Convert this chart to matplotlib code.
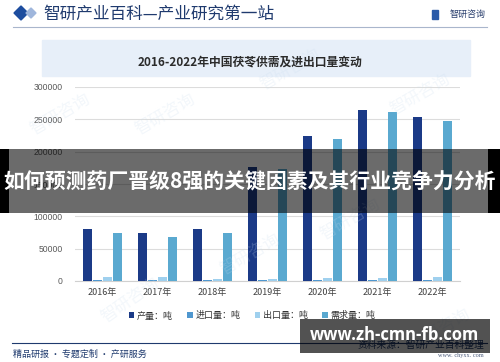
import matplotlib
matplotlib.use('Agg')
import matplotlib.pyplot as plt
from matplotlib.patches import Rectangle, Polygon
import numpy as np

plt.rcParams['font.family'] = ['Noto Sans CJK SC', 'DejaVu Sans']

# 数据 (单位: 吨)
years = ['2016年', '2017年', '2018年', '2019年', '2020年', '2021年', '2022年']
production = [80000, 74000, 80000, 177000, 224000, 264000, 254000]
imports = [1500, 1500, 1500, 1500, 800, 1500, 1500]
exports = [5500, 5500, 3500, 3700, 4500, 4500, 5800]
demand = [74500, 68000, 75000, 173000, 219000, 261000, 248000]
series_names = ['产量：吨', '进口量：吨', '出口量：吨', '需求量：吨']
series_colors = ['#1b3a87', '#4f97cf', '#9fd0ee', '#5aa9d0']
yticks = [0, 50000, 100000, 150000, 200000, 250000, 300000]

W, H = 500, 362
NAVY = '#1f3a6e'


def fx(px):
    return px / W


def fy(py):
    return 1 - py / H


def fig_rect(fig, x0, y0, x1, y1, **kw):
    """像素坐标的矩形 (左上角原点)"""
    r = Rectangle((fx(x0), fy(y1)), fx(x1) - fx(x0), fy(y0) - fy(y1),
                  transform=fig.transFigure, **kw)
    fig.patches.append(r)
    return r


def draw_chart(fig):
    ax = fig.add_axes([fx(75), fy(281), fx(460) - fx(75), fy(87) - fy(281)])
    x = np.arange(len(years))
    pitch = 0.182
    width = 0.148
    for i, (vals, name, c) in enumerate(zip([production, imports, exports, demand],
                                            series_names, series_colors)):
        ax.bar(x + (i - 1.5) * pitch, vals, width=width, color=c, label=name, zorder=3)
    ax.set_xlim(-0.5, len(years) - 0.5)
    ax.set_ylim(0, 300000)
    ax.set_yticks(yticks)
    ax.set_yticklabels([str(v) for v in yticks], fontsize=6.2, color='#595959',
                       family=['Liberation Sans', 'DejaVu Sans'])
    ax.set_xticks(x)
    ax.set_xticklabels(years, fontsize=6.5, color='#404040')
    ax.tick_params(axis='both', length=0)
    ax.tick_params(axis='y', pad=9)
    ax.tick_params(axis='x', pad=5)
    ax.grid(axis='y', color='#dcdcdc', linewidth=0.8, zorder=0)
    for s in ['top', 'right', 'left']:
        ax.spines[s].set_visible(False)
    ax.spines['bottom'].set_color('#d0d0d0')
    ax.set_facecolor('none')
    ax.legend(loc='upper center', bbox_to_anchor=(0.46, -0.115), ncol=4, frameon=False,
              fontsize=6.5, handlelength=0.6, handleheight=0.6, handletextpad=0.3,
              columnspacing=1.6, labelcolor='#333333')
    return ax


def draw_decor(fig):
    # 页眉
    fig.patches.append(Polygon([(fx(14), fy(13)), (fx(21), fy(6)), (fx(28), fy(13)), (fx(21), fy(20))],
                               closed=True, transform=fig.transFigure, color='#1d4d9f'))
    fig.patches.append(Polygon([(fx(26), fy(13)), (fx(31), fy(8)), (fx(36), fy(13)), (fx(31), fy(18))],
                               closed=True, transform=fig.transFigure, color='#9fb6dc'))
    fig.text(fx(43), fy(14), '智研产业百科—产业研究第一站', fontsize=12, color=NAVY,
             va='center', ha='left')
    fig_rect(fig, 432, 10, 438, 19, color='#2a5aa8')
    fig.text(fx(486), fy(14.5), '智研咨询', fontsize=6.5, color='#2a3f6e', va='center', ha='right')
    fig.add_artist(plt.Line2D([fx(13), fx(487)], [fy(27), fy(27)], color='#a9b6cc', lw=0.8))

    # 标题框
    fig_rect(fig, 42, 40, 470, 76, color='#e7eff9', zorder=0)
    fig.text(0.5, fy(62), '2016-2022年中国茯苓供需及进出口量变动', fontsize=8.5,
             color='#2b2b2b', ha='center', va='center', fontweight='bold')

    # 页脚
    fig.add_artist(plt.Line2D([fx(12), fx(487)], [fy(343), fy(343)], color=NAVY, lw=0.8))
    fig.text(fx(13), fy(354), '精品研报 · 专题定制 · 产研服务', fontsize=6.5, color=NAVY,
             va='center', ha='left')
    fig.text(fx(484), fy(345), '资料来源：智研产业百科整理', fontsize=7, color=NAVY,
             va='center', ha='right')
    fig.text(fx(484), fy(356), 'www. chyxx. com', fontsize=4.5, color='#4a5a7a',
             va='center', ha='right', family=['Liberation Serif', 'DejaVu Serif'])

    # 水印
    for (wx, wy, rot) in [(60, 115, 30), (165, 115, 30), (290, 70, 30), (130, 300, 35),
                          (250, 255, 30), (420, 95, 30), (440, 330, 30), (350, 220, 30)]:
        fig.text(fx(wx), fy(wy), '智研咨询', fontsize=12, color='#c9dcee', alpha=0.22,
                 rotation=rot, ha='center', va='center', zorder=1)


def draw_overlays(fig):
    # 中部横幅
    fig_rect(fig, 0, 149, 500, 213, color='black', alpha=0.58, zorder=10, lw=0)
    fig_rect(fig, 0, 149, 9, 213, color='black', zorder=11, lw=0)
    fig_rect(fig, 488, 149, 500, 213, color='black', zorder=11, lw=0)
    fig.text(0.5, fy(182), '如何预测药厂晋级8强的关键因素及其行业竞争力分析', fontsize=15,
             color='white', fontweight='bold', ha='center', va='center', zorder=12)
    # 右下角网址
    fig_rect(fig, 300, 319, 490, 353, color='black', alpha=0.68, zorder=10, lw=0)
    fig.text(fx(394), fy(335), 'www.zh-cmn-fb.com', fontsize=12, color='white',
             fontweight='bold', ha='center', va='center', zorder=12,
             family=['Open Sans', 'DejaVu Sans'])


def main():
    fig = plt.figure(figsize=(W / 100, H / 100), dpi=100)
    fig.patch.set_facecolor('white')
    draw_decor(fig)
    draw_chart(fig)
    draw_overlays(fig)
    fig.savefig('out.png', dpi=100)


if __name__ == '__main__':
    main()
